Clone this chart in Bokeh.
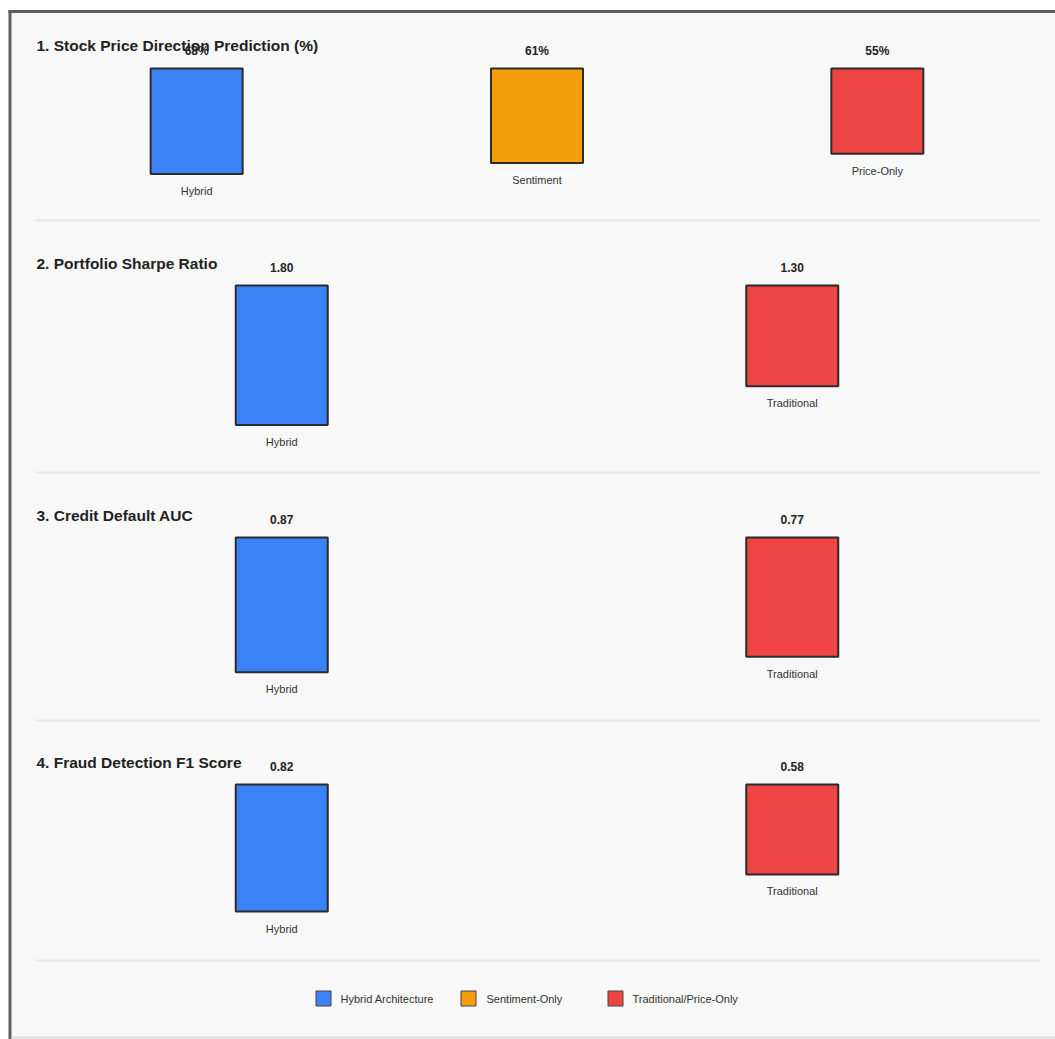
from bokeh.plotting import figure
from bokeh.models import Range1d, ColumnDataSource
from bokeh.core.properties import value
from bokeh.embed import file_html
from bokeh.resources import INLINE

# ---------------- data ----------------
titles = ["1. Stock Price Direction Prediction (%)", "2. Portfolio Sharpe Ratio",
          "3. Credit Default AUC", "4. Fraud Detection F1 Score"]
s1_categories = ["Hybrid", "Sentiment", "Price-Only"]
s1_values = [68, 61, 55]
s2_categories = ["Hybrid", "Traditional"]
s2_values = [1.80, 1.30]
s3_categories = ["Hybrid", "Traditional"]
s3_values = [0.87, 0.77]
s4_categories = ["Hybrid", "Traditional"]
s4_values = [0.82, 0.58]
scale_max = [100, 2, 1, 1]
value_formats = ["{:.0f}%", "{:.2f}", "{:.2f}", "{:.2f}"]
legend_labels = ["Hybrid Architecture", "Sentiment-Only", "Traditional/Price-Only"]
color_map = {"Hybrid": "#3b82f6", "Sentiment": "#f59e0b",
             "Price-Only": "#ef4444", "Traditional": "#ef4444"}
legend_colors = ["#3b82f6", "#f59e0b", "#ef4444"]

# ---------------- layout ----------------
W, H = 1055, 1039
FONT = value("Liberation Sans")
PLOT_L, PLOT_R = 26, 1047
BAR_PX = 92
BAR_SCALE_PX = 155
bar_top_px = [68, 285, 537, 784]
title_y = [45, 263, 515, 762]
separators = [220, 472, 720, 960]

p = figure(width=W, height=H, output_backend="svg", toolbar_location=None,
           x_range=Range1d(0, W), y_range=Range1d(H, 0), min_border=0,
           x_axis_type=None, y_axis_type=None)
p.grid.visible = False
p.outline_line_color = None
p.background_fill_color = "white"
p.border_fill_color = "white"

# panel background and frame
p.quad(left=[11], right=[W], top=[12], bottom=[1036], fill_color="#f8f8f8", line_color=None)
p.segment(x0=[9.5], x1=[9.5], y0=[9.5], y1=[H], line_color="#5e5e5e", line_width=3)
p.segment(x0=[8], x1=[W], y0=[11], y1=[11], line_color="#5e5e5e", line_width=3)
p.segment(x0=[11], x1=[W], y0=[1037], y1=[1037], line_color="#dcdcdc", line_width=2)
p.segment(x0=[35] * 4, x1=[1040] * 4, y0=separators, y1=separators,
          line_color="#e8e8e8", line_width=2)

sections = [
    (s1_categories, s1_values),
    (s2_categories, s2_values),
    (s3_categories, s3_values),
    (s4_categories, s4_values),
]

for k, (cats, vals) in enumerate(sections):
    n = len(cats)
    upp = n / (PLOT_R - PLOT_L)
    xr = Range1d(-PLOT_L * upp, n + (W - PLOT_R) * upp)
    ppu = BAR_SCALE_PX / scale_max[k]
    yr = Range1d((H - bar_top_px[k]) / ppu, -bar_top_px[k] / ppu)
    xn, yn = f"x{k}", f"y{k}"
    p.extra_x_ranges[xn] = xr
    p.extra_y_ranges[yn] = yr
    src = ColumnDataSource(dict(
        x=[i + 0.5 for i in range(n)],
        base=[0] * n,
        v=vals,
        c=[color_map[c] for c in cats],
        cat=cats,
        lab=[value_formats[k].format(v) for v in vals],
        ylab=[-18 / ppu] * n,
        ycat=[v + 17 / ppu for v in vals],
    ))
    p.vbar(x="x", width=BAR_PX * upp, top="base", bottom="v", fill_color="c",
           line_color="#2b2b2b", line_width=2, source=src,
           x_range_name=xn, y_range_name=yn)
    p.text(x="x", y="ylab", text="lab", source=src, x_range_name=xn, y_range_name=yn,
           text_font=FONT, text_font_style="bold", text_font_size="12px",
           text_color="#222222", text_align="center", text_baseline="middle")
    p.text(x="x", y="ycat", text="cat", source=src, x_range_name=xn, y_range_name=yn,
           text_font=FONT, text_font_size="11px",
           text_color="#333333", text_align="center", text_baseline="middle")
    p.text(x=[36], y=[title_y[k]], text=[titles[k]], text_font=FONT,
           text_font_style="bold", text_font_size="15.5px", text_color="#222222",
           text_align="left", text_baseline="middle")

# legend
leg_sq_x = [323, 468, 615]
leg_tx_x = [340, 486, 632]
leg_y = 998
p.rect(x=leg_sq_x, y=[leg_y] * 3, width=15, height=15, width_units="screen",
       height_units="screen", fill_color=legend_colors, line_color="#444444", line_width=1)
p.text(x=leg_tx_x, y=[leg_y] * 3, text=legend_labels, text_font=FONT,
       text_font_size="11px", text_color="#333333", text_align="left",
       text_baseline="middle")

open("out.html", "w").write(file_html(p, INLINE))
